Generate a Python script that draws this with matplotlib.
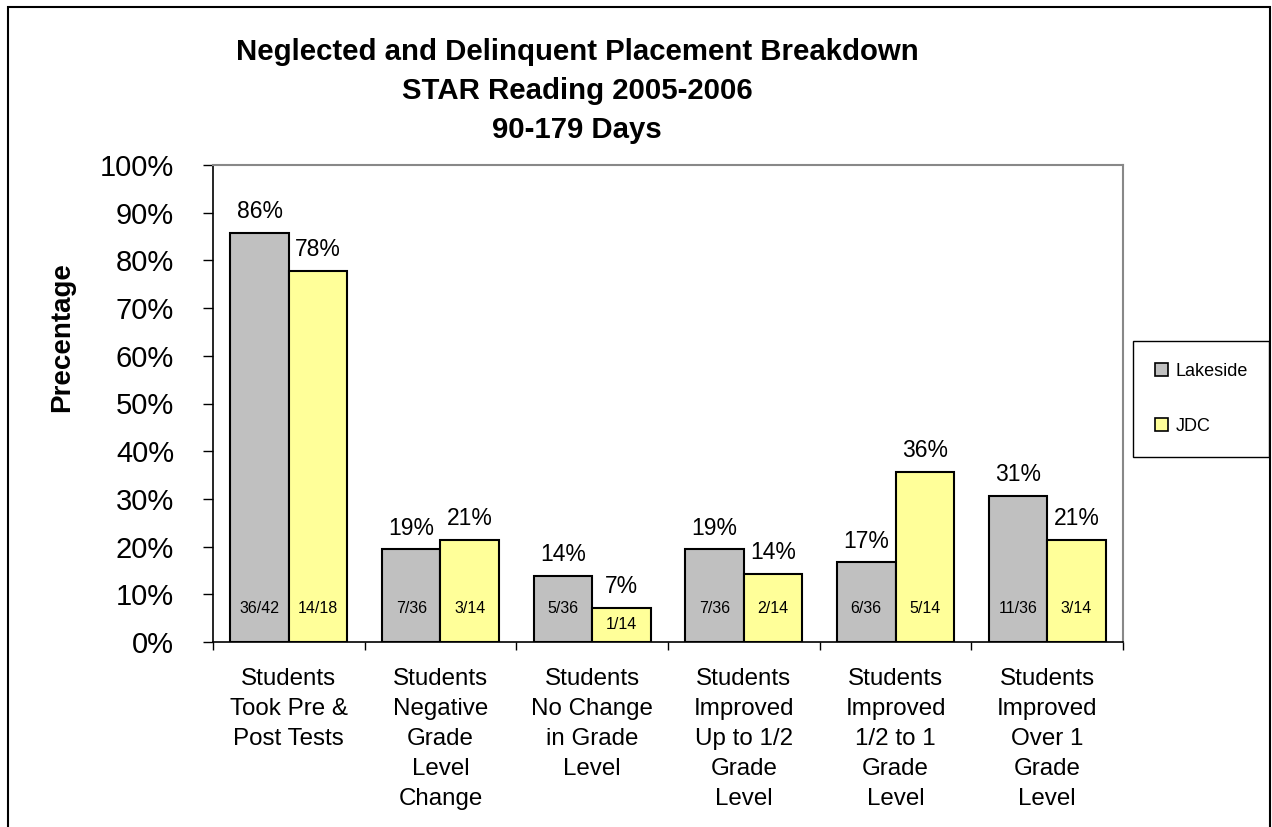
import matplotlib
matplotlib.use("Agg")
import matplotlib.pyplot as plt
from matplotlib.patches import Rectangle, Patch
from matplotlib.transforms import blended_transform_factory
import numpy as np

plt.rcParams['font.family'] = ['Liberation Sans', 'DejaVu Sans']

categories = [
    "Students\nTook Pre &\nPost Tests",
    "Students\nNegative\nGrade\nLevel\nChange",
    "Students\nNo Change\nin Grade\nLevel",
    "Students\nImproved\nUp to 1/2\nGrade\nLevel",
    "Students\nImproved\n1/2 to 1\nGrade\nLevel",
    "Students\nImproved\nOver 1\nGrade\nLevel",
]
lakeside = [85.7, 19.4, 13.9, 19.4, 16.7, 30.6]
jdc = [77.8, 21.4, 7.1, 14.3, 35.7, 21.4]
lakeside_counts = ["36/42", "7/36", "5/36", "7/36", "6/36", "11/36"]
jdc_counts = ["14/18", "3/14", "1/14", "2/14", "5/14", "3/14"]
yticks = [0, 10, 20, 30, 40, 50, 60, 70, 80, 90, 100]

W, H = 1272, 827
fig = plt.figure(figsize=(W / 100, H / 100), dpi=100)
ax = fig.add_axes([213 / W, 1 - 642 / H, (1123 - 213) / W, (642 - 165) / H])

x = np.arange(len(categories))
bw = 0.385
b1 = ax.bar(x - bw / 2, lakeside, bw, color='#C0C0C0', edgecolor='black', linewidth=1.5, label='Lakeside', zorder=2)
b2 = ax.bar(x + bw / 2, jdc, bw, color='#FFFF99', edgecolor='black', linewidth=1.5, label='JDC', zorder=2)

for bars, vals, counts in ((b1, lakeside, lakeside_counts), (b2, jdc, jdc_counts)):
    for rect, v, c in zip(bars, vals, counts):
        cx = rect.get_x() + rect.get_width() / 2
        ax.annotate(f"{v:.0f}%", (cx, v), xytext=(0, 7), textcoords='offset points',
                    ha='center', va='bottom', fontsize=16.5)
        ax.text(cx, min(7.0, v * 0.53), c, ha='center', va='center', fontsize=11.5, zorder=3)

ax.set_xlim(-0.5, len(categories) - 0.5)
ax.set_ylim(0, 100)
ax.set_yticks(yticks)
ax.set_yticklabels([f"{t}%" for t in yticks], fontsize=21)
ax.tick_params(axis='y', direction='out', length=7, width=1, pad=21)
ax.set_xticks(np.arange(len(categories) + 1) - 0.5)
ax.set_xticklabels([])
ax.tick_params(axis='x', direction='out', length=6, width=1)

for s in ('left', 'bottom'):
    ax.spines[s].set_color('black')
    ax.spines[s].set_linewidth(1.2)
for s in ('top', 'right'):
    ax.spines[s].set_color('#888888')
    ax.spines[s].set_linewidth(1.5)

trans = blended_transform_factory(ax.transData, ax.transAxes)
for xi, lab in zip(x, categories):
    ax.text(xi, -0.055, lab, transform=trans, ha='center', va='top', fontsize=17.4,
            linespacing=1.47, multialignment='center')

fig.text(577 / W, 1 - 91 / H,
         "Neglected and Delinquent Placement Breakdown\nSTAR Reading 2005-2006\n90-179 Days",
         ha='center', va='center', fontsize=21.2, fontweight='bold', linespacing=1.5)

fig.text(62 / W, 1 - 337 / H, "Precentage", rotation=90, ha='center', va='center',
         fontsize=20, fontweight='bold')

handles = [Patch(facecolor='#C0C0C0', edgecolor='black', linewidth=1.2),
           Patch(facecolor='#FFFF99', edgecolor='black', linewidth=1.2)]
leg = fig.legend(handles, ['Lakeside', 'JDC'], loc='center left',
                 bbox_to_anchor=(1133 / W, 1 - 399 / H), fontsize=13,
                 frameon=True, fancybox=False, edgecolor='black', framealpha=1,
                 handlelength=0.75, handleheight=0.75, handletextpad=0.4,
                 labelspacing=2.1, borderpad=1.2, borderaxespad=0)
leg.get_frame().set_linewidth(1.0)

fig.patches.append(Rectangle((8 / W, -0.05), (1270 - 8) / W, 1.05 - 7 / H,
                             transform=fig.transFigure, fill=False,
                             edgecolor='black', linewidth=1.5))

fig.savefig("out.png", dpi=100)
